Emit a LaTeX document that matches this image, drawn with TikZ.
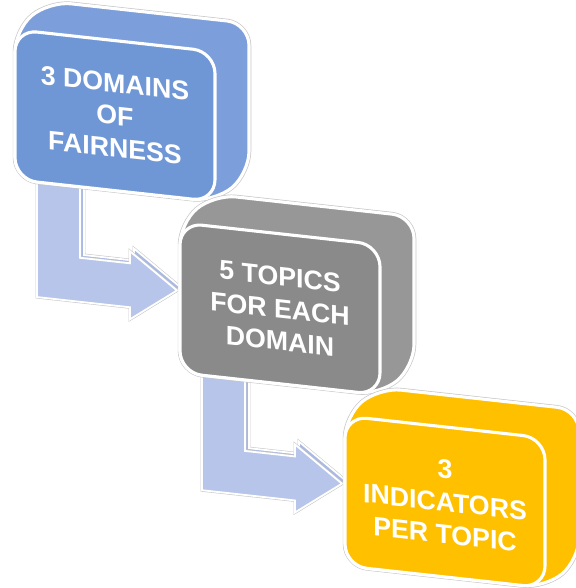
\documentclass[tikz,border=0pt]{standalone}
\usepackage{fontspec}
\setmainfont{Liberation Sans}
\usetikzlibrary{calc, backgrounds}
\definecolor{fBlue}{HTML}{6F97D6}
\definecolor{fBlueSide}{HTML}{7C9EDB}
\definecolor{fGrey}{HTML}{8A8A8A}
\definecolor{fGreySide}{HTML}{979797}
\definecolor{fGold}{HTML}{FFC000}
\definecolor{fArrow}{HTML}{B7C5EA}
\definecolor{fArrowSide}{HTML}{A9B9E4}
\definecolor{fEdge}{HTML}{C8C8C8}

\begin{document}
\begin{tikzpicture}[
  tier/.style={draw=white, line width=2.2pt, fill=#1, rounded corners=0.55cm, transform shape,
               anchor=north west, minimum width=5cm, minimum height=3.75cm, inner sep=0pt, outer sep=0pt,
               align=center, text=white, font=\fontsize{19}{23}\selectfont\bfseries},
  slab/.style={fill=#1, draw=white, line width=2.2pt, rounded corners=0.55cm,
               preaction={draw=fEdge, line width=3.2pt}},
  flow/.style={fill=#1, draw=white, line width=1.3pt, line join=miter,
               preaction={draw=fEdge, line width=2.1pt}},
  flow/.default=fArrow]
  \useasboundingbox (0,0) rectangle (14.375,14.7);
  \begin{scope}[yslant=-0.11]
  % front faces, top left to bottom right
  \node[tier=fBlue] (dom) at (0.375,14.0) {3 DOMAINS\\OF\\FAIRNESS};
  \node[tier=fGrey] (top) at ($(dom.north west)+(4.125,-4.375)$) {5 TOPICS\\FOR EACH\\DOMAIN};
  \node[tier=fGold] (ind) at ($(top.north west)+(4.125,-4.375)$) {3\\INDICATORS\\PER TOPIC};
  \begin{scope}[on background layer]
    % bent arrows
    \foreach \a/\b/\i in {dom/top/1, top/ind/2} {
      \coordinate (s\i) at ($(\a.south west)+(0.55,0.25)$);
      \coordinate (t\i) at ($(\b.west)+(-0.075,0.175)$);
      \draw[flow=fArrowSide] ($(s\i)+(0.1,0.08)$) -- ++(0,-3.125) -- ++(2.325,0) -- ++(0,-0.3)
        -- ($(t\i)+(0.1,0.08)$) -- ++(-1.175,0.85) -- ++(0,-0.3) -- ++(-1.25,0) -- ++(0,2.025) -- cycle;
      \draw[flow] (s\i) -- ++(0,-3.125) -- ++(2.325,0) -- ++(0,-0.3)
        -- (t\i) -- ++(-1.175,0.85) -- ++(0,-0.3) -- ++(-1.25,0) -- ++(0,2.025) -- cycle;
    }
    % depth of each tier
    \foreach \n/\c in {dom/fBlueSide, top/fGreySide, ind/fGold}
      \draw[slab=\c] (\n.south west) -- (\n.south east) -- ++(0.85,0.8)
        -- ($(\n.north east)+(0.85,0.8)$) -- ($(\n.north west)+(0.85,0.8)$) -- (\n.north west) -- cycle;
  \end{scope}
  \end{scope}
\end{tikzpicture}
\end{document}
